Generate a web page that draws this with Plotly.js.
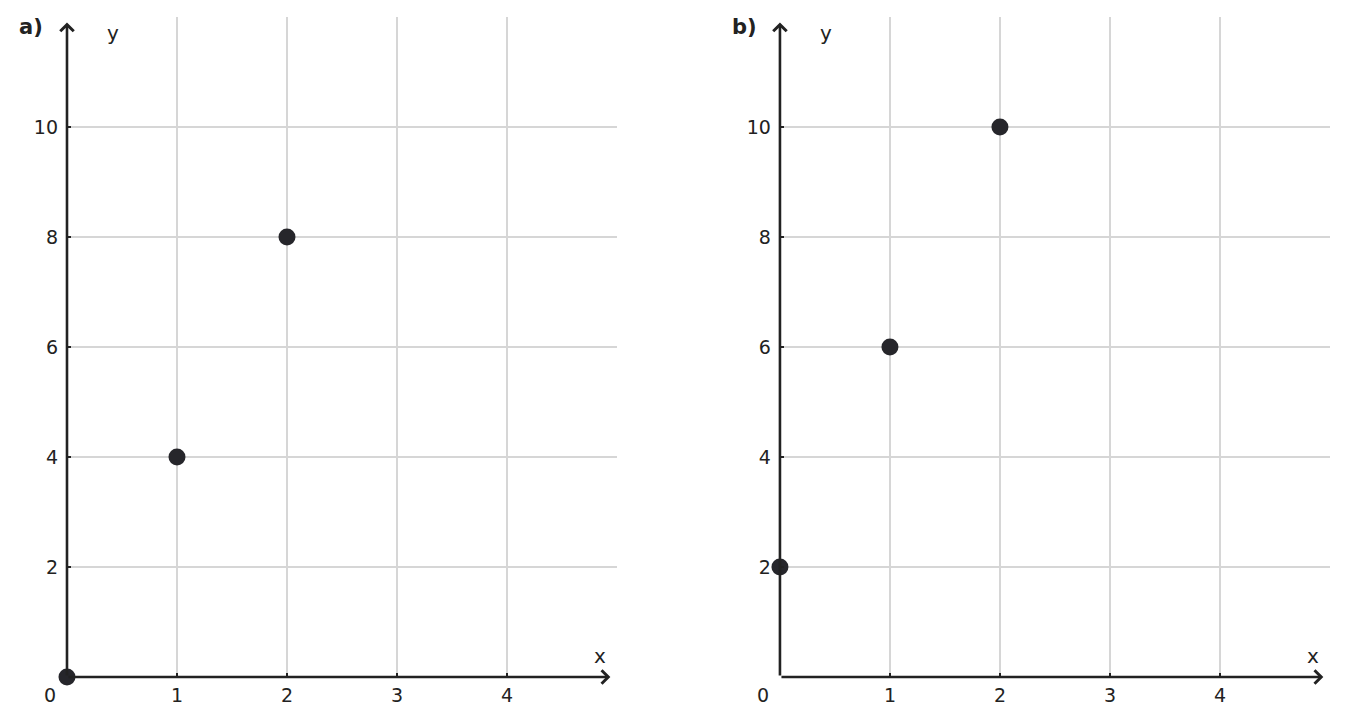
<!DOCTYPE html>
<html>
<head>
<meta charset="utf-8">
<script src="https://cdn.plot.ly/plotly-3.0.1.min.js"></script>
<style>
  html, body { margin: 0; padding: 0; background: #fff; }
  #chart { width: 1348px; height: 725px; }
</style>
</head>
<body>
<div id="chart"></div>
<script>
// data
var xA = [0, 1, 2];
var yA = [0, 4, 8];
var xB = [0, 1, 2];
var yB = [2, 6, 10];
var xTicks = [0, 1, 2, 3, 4];
var xTickText = ['', '1', '2', '3', '4'];
var yTicks = [0, 2, 4, 6, 8, 10];
var yTickText = ['', '2', '4', '6', '8', '10'];
var panelLabels = ['a)', 'b)'];

var ink = '#222222';
var dot = '#26262b';
var font = 'DejaVu Sans, sans-serif';
var W = 1348, H = 725;

function pts(x, y, xa, ya) {
    return {
        type: 'scatter', mode: 'markers', x: x, y: y,
        xaxis: xa, yaxis: ya, cliponaxis: false, hoverinfo: 'skip',
        marker: { size: 17, color: dot }
    };
}

var data = [pts(xA, yA, 'x', 'y'), pts(xB, yB, 'x2', 'y2')];

function xax(dom, anchor) {
    return {
        domain: dom, anchor: anchor, range: [0, 5], fixedrange: true,
        tickmode: 'array', tickvals: xTicks, ticktext: xTickText,
        showgrid: true, gridcolor: '#d6d6d6', gridwidth: 1.5,
        zeroline: false, showline: false,
        ticks: 'inside', ticklen: 4, tickwidth: 2, tickcolor: ink,
        ticklabelstandoff: 5,
        tickfont: { family: font, size: 19, color: ink }
    };
}
function yax(anchor) {
    return {
        domain: [0.0662, 0.9766], anchor: anchor, range: [0, 12], fixedrange: true,
        tickmode: 'array', tickvals: yTicks, ticktext: yTickText,
        showgrid: true, gridcolor: '#d6d6d6', gridwidth: 1.5,
        zeroline: false, showline: false,
        ticks: 'inside', ticklen: 4, tickwidth: 2, tickcolor: ink,
        ticklabelstandoff: 8,
        tickfont: { family: font, size: 19, color: ink }
    };
}

function paperText(px, py, text, size) {
    return { xref: 'paper', yref: 'paper', x: px / W, y: 1 - py / H,
        xanchor: 'center', yanchor: 'middle', text: text, showarrow: false,
        font: { family: font, size: size, color: ink } };
}

var annotations = [];
var offsets = [0, 713];
['', '2'].forEach(function (s, i) {
    var xr = 'x' + s, yr = 'y' + s;
    // axis arrows
    annotations.push({
        xref: xr, yref: yr, axref: xr, ayref: yr,
        x: 4.94, y: 0, ax: 0, ay: 0, text: '', showarrow: true,
        arrowhead: 4, arrowsize: 1, arrowwidth: 2.6, arrowcolor: ink
    });
    annotations.push({
        xref: xr, yref: yr, axref: xr, ayref: yr,
        x: 0, y: 11.9, ax: 0, ay: 0, text: '', showarrow: true,
        arrowhead: 4, arrowsize: 1, arrowwidth: 2.6, arrowcolor: ink
    });
    // axis names, origin and panel label
    annotations.push({ xref: xr, yref: yr, x: 4.85, y: 0.38, text: 'x', showarrow: false,
        font: { family: font, size: 20, color: ink } });
    annotations.push({ xref: xr, yref: yr, x: 0.42, y: 11.7, text: 'y', showarrow: false,
        font: { family: font, size: 20, color: ink } });
    annotations.push(paperText(50 + offsets[i], 695, '0', 19));
    annotations.push(paperText(31 + offsets[i], 27, '<b>' + panelLabels[i] + '</b>', 21));
});

var layout = {
    width: W, height: H,
    margin: { l: 0, r: 0, t: 0, b: 0 },
    paper_bgcolor: '#ffffff', plot_bgcolor: '#ffffff',
    showlegend: false,
    xaxis: xax([0.0497, 0.4577], 'y'),
    yaxis: yax('x'),
    xaxis2: xax([0.5786, 0.9866], 'y2'),
    yaxis2: yax('x2'),
    annotations: annotations
};

Plotly.newPlot('chart', data, layout, { displayModeBar: false, staticPlot: true });
</script>
</body>
</html>
